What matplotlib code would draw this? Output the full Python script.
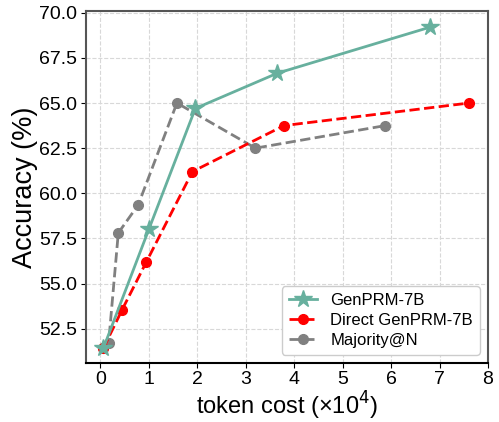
import matplotlib.pyplot as plt

plt.rcParams['font.family'] = ['Liberation Sans', 'DejaVu Sans']

# token cost (x10^4) and accuracy (%)
gen_x = [0.06, 1.0, 1.96, 3.65, 6.8]
gen_y = [51.4, 58.0, 64.7, 66.65, 69.2]

direct_x = [0.06, 0.45, 0.95, 1.9, 3.79, 7.61]
direct_y = [51.4, 53.55, 56.2, 61.2, 63.75, 65.0]

maj_x = [0.06, 0.17, 0.37, 0.78, 1.58, 3.2, 5.88]
maj_y = [51.4, 51.7, 57.8, 59.35, 65.0, 62.5, 63.75]

fig = plt.figure(figsize=(4.99, 4.22), dpi=100)
ax = fig.add_axes([0.172, 0.140, 0.806, 0.834])

ax.plot(gen_x, gen_y, color='#67b09e', marker='*', markersize=13, linewidth=2,
        label='GenPRM-7B', zorder=4)
ax.plot(direct_x, direct_y, color='red', marker='o', markersize=7, linewidth=2,
        linestyle='--', label='Direct GenPRM-7B', zorder=3)
ax.plot(maj_x, maj_y, color='gray', marker='o', markersize=7, linewidth=2,
        linestyle='--', label='Majority@N', zorder=2)

ax.set_xlim(-0.3, 8.0)
ax.set_ylim(50.6, 70.1)
ax.set_xticks(range(0, 9))
ax.set_yticks([52.5, 55.0, 57.5, 60.0, 62.5, 65.0, 67.5, 70.0])
ax.set_yticklabels(['52.5', '55.0', '57.5', '60.0', '62.5', '65.0', '67.5', '70.0'])
ax.tick_params(labelsize=14, pad=2.5)
ax.grid(True, linestyle='--', color='#d8d8d8', linewidth=0.8)
ax.set_axisbelow(True)

for side in ['left', 'top', 'right']:
    ax.spines[side].set_color('#555555')
    ax.spines[side].set_linewidth(1.5)
ax.spines['bottom'].set_color('black')
ax.spines['bottom'].set_linewidth(1.5)

ax.set_xlabel('token cost (×10$^4$)', fontsize=17, labelpad=1)
ax.set_ylabel('Accuracy (%)', fontsize=19.5, labelpad=1)

ax.legend(loc='lower right', fontsize=12, handlelength=1.7, borderpad=0.4,
          labelspacing=0.3, fancybox=True, framealpha=1)

fig.savefig('out.png', dpi=100)
